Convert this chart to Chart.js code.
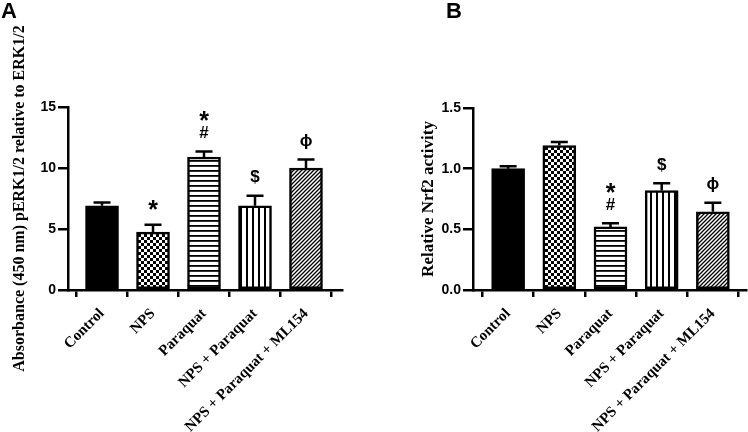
<!DOCTYPE html>
<html>
<head>
<meta charset="utf-8">
<script src="https://cdn.jsdelivr.net/npm/chart.js@4/dist/chart.umd.min.js"></script>
<style>
  html, body { margin: 0; padding: 0; background: #fff; }
  #wrap { position: relative; width: 748px; height: 432px; }
  .panel { position: absolute; top: 0; height: 432px; }
</style>
</head>
<body>
<div id="wrap">
  <div class="panel" style="left:0;width:374px"><canvas id="chartA"></canvas></div>
  <div class="panel" style="left:374px;width:374px"><canvas id="chartB"></canvas></div>
</div>
<script>
/* Two-panel bar chart: pERK1/2 (A) and Nrf2 activity (B) */

const groups = ['Control', 'NPS', 'Paraquat', 'NPS + Paraquat', 'NPS + Paraquat + ML154'];

// panel A
const erkMean = [6.9, 4.75, 10.9, 6.9, 10.0];
const erkSem = [0.28, 0.6, 0.45, 0.83, 0.7];
const erkMarks = [[], ['*'], ['*', '#'], ['$'], ['ϕ']];

// panel B
const nrfMean = [1.0, 1.19, 0.52, 0.82, 0.645];
const nrfSem = [0.02, 0.03, 0.03, 0.06, 0.075];
const nrfMarks = [[], [], ['*', '#'], ['$'], ['ϕ']];

const fills = ['solid', 'checker', 'hlines', 'vlines', 'diag'];

function makeFill(kind) {
  if (kind === 'solid') return '#000';
  const c = document.createElement('canvas');
  const g = c.getContext('2d');
  if (kind === 'checker') {
    c.width = 6; c.height = 6;
    g.fillStyle = '#fff'; g.fillRect(0, 0, 6, 6);
    g.fillStyle = '#000';
    g.fillRect(0, 0, 3, 3); g.fillRect(3, 3, 3, 3);
  } else if (kind === 'hlines') {
    c.width = 4; c.height = 5;
    g.fillStyle = '#fff'; g.fillRect(0, 0, 4, 5);
    g.fillStyle = '#000'; g.fillRect(0, 0, 4, 1.8);
  } else if (kind === 'vlines') {
    c.width = 6; c.height = 4;
    g.fillStyle = '#fff'; g.fillRect(0, 0, 6, 4);
    g.fillStyle = '#000'; g.fillRect(0, 0, 2, 4);
  } else if (kind === 'diag') {
    c.width = 4; c.height = 4;
    g.fillStyle = '#fff'; g.fillRect(0, 0, 4, 4);
    g.strokeStyle = '#000'; g.lineWidth = 1.3;
    g.beginPath();
    g.moveTo(-1, 5); g.lineTo(5, -1);
    g.moveTo(-1, 1); g.lineTo(1, -1);
    g.moveTo(3, 5); g.lineTo(5, 3);
    g.stroke();
  }
  return g.createPattern(c, 'repeat');
}

// error bars (upper half only) + significance marks + panel letter
const extrasPlugin = {
  id: 'extras',
  afterDatasetsDraw(chart, args, opts) {
    const ctx = chart.ctx;
    const xs = chart.scales.x, ys = chart.scales.y;
    ctx.save();
    ctx.strokeStyle = '#000';
    ctx.lineWidth = 2.5;
    ctx.lineCap = 'butt';
    opts.mean.forEach((v, i) => {
      const x = xs.getPixelForValue(i);
      const yb = ys.getPixelForValue(v);
      const yt = ys.getPixelForValue(v + opts.sem[i]);
      ctx.beginPath();
      ctx.moveTo(x, yb); ctx.lineTo(x, yt);
      ctx.moveTo(x - 8.5, yt); ctx.lineTo(x + 8.5, yt);
      ctx.stroke();

      const marks = opts.marks[i];
      ctx.fillStyle = '#000';
      ctx.textAlign = 'center';
      ctx.textBaseline = 'middle';
      marks.slice().reverse().forEach((m, k) => {
        const y = yt - 18 - k * 15;
        if (m === '*') {
          ctx.font = 'bold 25px "Liberation Sans", Arial, sans-serif';
          ctx.fillText(m, x, y + 4);
        } else {
          ctx.font = 'bold 17px "Liberation Sans", Arial, sans-serif';
          ctx.fillText(m, x, y);
        }
      });
    });
    ctx.font = 'bold 22px "Liberation Sans", Arial, sans-serif';
    ctx.textAlign = 'left';
    ctx.textBaseline = 'top';
    ctx.fillText(opts.letter, opts.letterX, 1);
    ctx.restore();
  }
};

function buildChart(id, cfg) {
  const data = cfg.mean.map((v, i) => ({ x: i, y: v }));
  return new Chart(document.getElementById(id), {
    type: 'bar',
    data: {
      datasets: [{
        data,
        backgroundColor: fills.map(makeFill),
        borderColor: '#000',
        borderWidth: 2.5,
        borderSkipped: false,
        barThickness: 33,
      }]
    },
    plugins: [extrasPlugin],
    options: {
      responsive: true,
      maintainAspectRatio: false,
      animation: false,
      layout: { padding: cfg.padding },
      plugins: {
        legend: { display: false },
        tooltip: { enabled: false },
        extras: { mean: cfg.mean, sem: cfg.sem, marks: cfg.marks, letter: cfg.letter, letterX: cfg.letterX },
      },
      scales: {
        x: {
          type: 'linear',
          bounds: 'data',
          offset: false,
          min: cfg.xMin,
          max: cfg.xMax,
          afterBuildTicks: s => { s.ticks = groups.map((g, i) => ({ value: i })); },
          afterFit: s => { s.height = 142; },
          border: { color: '#000', width: 2.5 },
          grid: { drawOnChartArea: false, color: '#000', tickLength: 7, lineWidth: 2.5 },
          ticks: {
            autoSkip: false,
            minRotation: 45,
            maxRotation: 45,
            padding: 8,
            color: '#000',
            font: { family: '"Liberation Serif", "Times New Roman", serif', weight: 'bold', size: 15 },
            callback: v => groups[v] ?? '',
          },
        },
        y: {
          min: 0,
          max: cfg.yMax,
          afterFit: s => { s.width = cfg.yWidth; },
          border: { color: '#000', width: 2.5 },
          grid: { drawOnChartArea: false, color: '#000', tickLength: 10, lineWidth: 2.5 },
          ticks: {
            stepSize: cfg.yStep,
            padding: 2,
            color: '#000',
            font: { family: '"Liberation Sans", Arial, sans-serif', weight: 'bold', size: 14 },
            callback: v => cfg.yFmt(v),
          },
          title: {
            display: true,
            text: cfg.yTitle,
            color: '#000',
            padding: { top: cfg.titlePad, bottom: 0 },
            font: { family: '"Liberation Serif", "Times New Roman", serif', weight: 'bold', size: cfg.titleSize },
          },
        },
      },
    },
  });
}

buildChart('chartA', {
  mean: erkMean, sem: erkSem, marks: erkMarks,
  letter: 'A', letterX: 1,
  padding: { left: 0, right: 32, top: 107, bottom: 0 },
  xMin: -0.667, xMax: 4.706,
  yMax: 15, yStep: 5, yWidth: 68,
  yFmt: v => String(v),
  yTitle: 'Absorbance (450 nm) pERK1/2 relative to ERK1/2',
  titleSize: 16, titlePad: 10,
});

buildChart('chartB', {
  mean: nrfMean, sem: nrfSem, marks: nrfMarks,
  letter: 'B', letterX: 72,
  padding: { left: 0, right: 2, top: 108, bottom: 0 },
  xMin: -0.686, xMax: 4.647,
  yMax: 1.5, yStep: 0.5, yWidth: 99,
  yFmt: v => v.toFixed(1),
  yTitle: 'Relative Nrf2 activity',
  titleSize: 17, titlePad: 44,
});
</script>
</body>
</html>
